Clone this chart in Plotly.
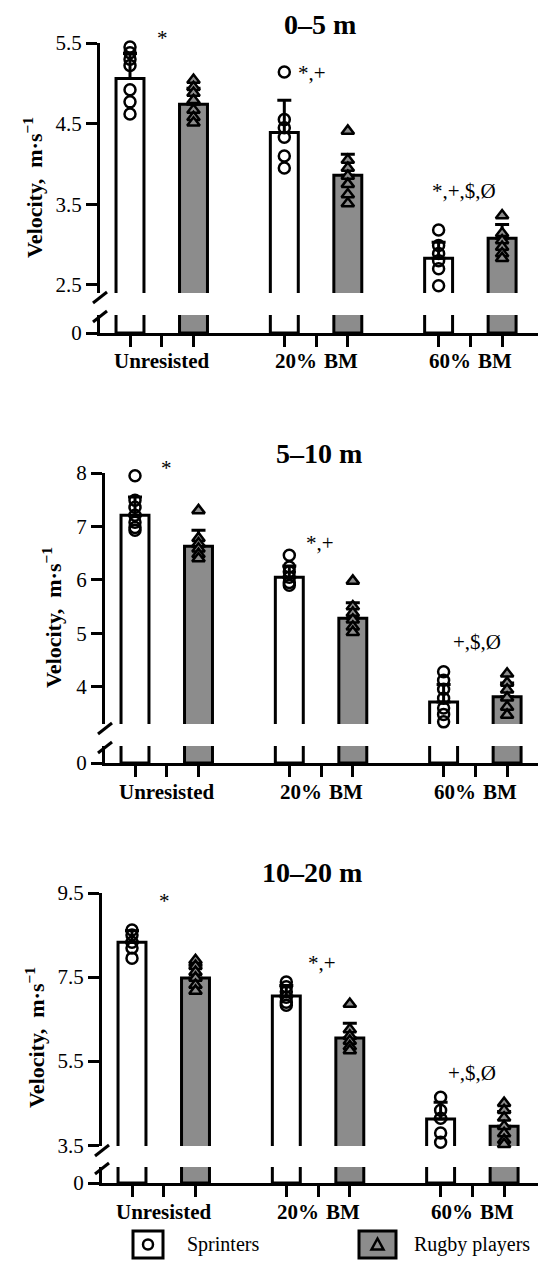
import plotly.graph_objects as go

W, H = 538, 1262

conditions = ["Unresisted", "20%\u2004BM", "60%\u2004BM"]
panel_titles = ["0–5 m", "5–10 m", "10–20 m"]
group_names = ["Sprinters", "Rugby players"]

# ---- 0–5 m ----
sprint_mean_0_5 = [5.06, 4.39, 2.83]
sprint_sd_0_5 = [0.31, 0.40, 0.20]
rugby_mean_0_5 = [4.74, 3.86, 3.08]
rugby_sd_0_5 = [0.20, 0.26, 0.17]
sprint_pts_0_5 = [[5.45, 5.38, 5.30, 5.22, 4.92, 4.77, 4.62],
                  [5.14, 4.55, 4.45, 4.33, 4.10, 3.95],
                  [3.18, 2.99, 2.89, 2.80, 2.70, 2.49]]
rugby_pts_0_5 = [[5.04, 4.95, 4.88, 4.79, 4.67, 4.58, 4.51],
                 [4.41, 4.05, 3.95, 3.85, 3.75, 3.62, 3.51],
                 [3.36, 3.14, 3.05, 2.97, 2.89, 2.83]]
sig_0_5 = ["*", "*,+", "*,+,$,Ø"]
ticks_0_5 = [2.5, 3.5, 4.5, 5.5]

# ---- 5–10 m ----
sprint_mean_5_10 = [7.21, 6.05, 3.71]
sprint_sd_5_10 = [0.34, 0.21, 0.33]
rugby_mean_5_10 = [6.63, 5.28, 3.81]
rugby_sd_5_10 = [0.30, 0.29, 0.26]
sprint_pts_5_10 = [[7.95, 7.49, 7.36, 7.21, 7.08, 6.98, 6.93],
                   [6.46, 6.24, 6.15, 6.05, 5.95, 5.90],
                   [4.28, 4.12, 3.95, 3.78, 3.60, 3.48, 3.34]]
rugby_pts_5_10 = [[7.30, 6.78, 6.68, 6.58, 6.48, 6.40],
                  [5.98, 5.50, 5.38, 5.25, 5.12, 5.02],
                  [4.24, 4.07, 3.94, 3.79, 3.62, 3.47]]
sig_5_10 = ["*", "*,+", "+,$,Ø"]
ticks_5_10 = [4, 5, 6, 7, 8]

# ---- 10–20 m ----
sprint_mean_10_20 = [8.33, 7.05, 4.12]
sprint_sd_10_20 = [0.27, 0.25, 0.40]
rugby_mean_10_20 = [7.48, 6.05, 3.95]
rugby_sd_10_20 = [0.30, 0.35, 0.35]
sprint_pts_10_20 = [[8.62, 8.50, 8.33, 8.19, 7.95],
                    [7.38, 7.27, 7.15, 7.02, 6.90, 6.83],
                    [4.64, 4.33, 4.14, 3.79, 3.57]]
rugby_pts_10_20 = [[7.90, 7.76, 7.62, 7.48, 7.31, 7.17],
                   [6.86, 6.25, 6.10, 5.98, 5.85, 5.75],
                   [4.50, 4.33, 4.15, 3.95, 3.78, 3.62, 3.52]]
sig_10_20 = ["*", "*,+", "+,$,Ø"]
ticks_10_20 = [3.5, 5.5, 7.5, 9.5]

panels_data = [
    (sprint_mean_0_5, sprint_sd_0_5, rugby_mean_0_5, rugby_sd_0_5, sprint_pts_0_5, rugby_pts_0_5, sig_0_5, ticks_0_5),
    (sprint_mean_5_10, sprint_sd_5_10, rugby_mean_5_10, rugby_sd_5_10, sprint_pts_5_10, rugby_pts_5_10, sig_5_10, ticks_5_10),
    (sprint_mean_10_20, sprint_sd_10_20, rugby_mean_10_20, rugby_sd_10_20, sprint_pts_10_20, rugby_pts_10_20, sig_10_20, ticks_10_20),
]

# ---- layout (pixel geometry) ----
layout_cfg = [
    dict(yx=100, up=(43, 293), lo=(315, 333), yr=(2.4, 5.5), title_xy=(320, 24), ytitle_xy=(33, 188),
         sig_y=[5.56, 5.13, 3.67], sig_dx=[1, -4, -6], cat_y=361),
    dict(yx=105, up=(473, 724), lo=(746, 763), yr=(3.3, 8.0), title_xy=(319, 453), ytitle_xy=(52, 618),
         sig_y=[8.09, 6.69, 4.84], sig_dx=[0, -1, 2], cat_y=792),
    dict(yx=102, up=(893, 1146), lo=(1167, 1183), yr=(3.48, 9.5), title_xy=(312, 872), ytitle_xy=(35, 1038),
         sig_y=[9.31, 7.83, 5.21], sig_dx=[1, 4, 0], cat_y=1212),
]
PX_PER_UNIT = 31.75
GROUP_STEP = 4.86
XMIN = -0.945
BAR_W = 0.88
GRAY = "#8c8c8c"
FONT = "Liberation Serif, Times New Roman, Times, serif"


def xp(px):
    return px / W


def yp(py):
    return 1 - py / H


fig = go.Figure()
shapes = []
annotations = []
lay = {}

for p, (sm, ssd, rm, rsd, spts, rpts, sig, yticks) in enumerate(panels_data):
    c = layout_cfg[p]
    xa = "x" if p == 0 else f"x{p + 1}"
    yu_i, yl_i = 2 * p + 1, 2 * p + 2
    yu = "y" if yu_i == 1 else f"y{yu_i}"
    yl = f"y{yl_i}"
    s_pos = [g * GROUP_STEP for g in range(3)]
    m_pos = [g * GROUP_STEP + 1 for g in range(3)]
    r_pos = [g * GROUP_STEP + 2 for g in range(3)]

    for ya, with_err in ((yu, True), (yl, False)):
        fig.add_trace(go.Bar(
            x=s_pos, y=sm, width=BAR_W, xaxis=xa, yaxis=ya,
            marker=dict(color="white", line=dict(color="black", width=3)),
            error_y=dict(type="data", symmetric=False, array=ssd, arrayminus=[0] * 3,
                         thickness=3, width=7, color="black", visible=with_err),
            showlegend=False, hoverinfo="skip"))
        fig.add_trace(go.Bar(
            x=r_pos, y=rm, width=BAR_W, xaxis=xa, yaxis=ya,
            marker=dict(color=GRAY, line=dict(color="black", width=3)),
            error_y=dict(type="data", symmetric=False, array=rsd, arrayminus=[0] * 3,
                         thickness=3, width=7, color="black", visible=with_err),
            showlegend=False, hoverinfo="skip"))

    sx, sy, rx, ry = [], [], [], []
    for g in range(3):
        sx += [s_pos[g]] * len(spts[g])
        sy += spts[g]
        rx += [r_pos[g]] * len(rpts[g])
        ry += rpts[g]
    fig.add_trace(go.Scatter(
        x=sx, y=sy, mode="markers", xaxis=xa, yaxis=yu, cliponaxis=False,
        marker=dict(symbol="circle", size=11, color="rgba(0,0,0,0)",
                    line=dict(color="black", width=2.5)),
        showlegend=False, hoverinfo="skip"))
    fig.add_trace(go.Scatter(
        x=rx, y=ry, mode="markers", xaxis=xa, yaxis=yu, cliponaxis=False,
        marker=dict(symbol="triangle-up", size=11, color=GRAY,
                    line=dict(color="black", width=2.5)),
        showlegend=False, hoverinfo="skip"))

    xmax = XMIN + (W - c["yx"]) / PX_PER_UNIT
    tickvals = []
    for g in range(3):
        tickvals += [s_pos[g], m_pos[g], r_pos[g]]

    xkey = "xaxis" if p == 0 else f"xaxis{p + 1}"
    yukey = "yaxis" if yu_i == 1 else f"yaxis{yu_i}"
    ylkey = f"yaxis{yl_i}"
    lay[xkey] = dict(
        domain=[xp(c["yx"]), 1], range=[XMIN, xmax], anchor=yl, automargin=False,
        showline=True, linecolor="black", linewidth=3, showgrid=False, zeroline=False,
        ticks="outside", ticklen=11, tickwidth=3, tickcolor="black",
        tickvals=tickvals, showticklabels=False)
    lay[yukey] = dict(
        domain=[yp(c["up"][1]), yp(c["up"][0])], range=list(c["yr"]), anchor=xa, automargin=False,
        showline=True, linecolor="black", linewidth=3, showgrid=False, zeroline=False,
        ticks="outside", ticklen=11, tickwidth=3, tickcolor="black",
        tickvals=yticks, ticktext=[f"{t:g}" for t in yticks],
        tickfont=dict(family=FONT, size=21, color="black"))
    lay[ylkey] = dict(
        domain=[yp(c["lo"][1]), yp(c["lo"][0])], range=[0, 1], anchor=xa, automargin=False,
        showline=True, linecolor="black", linewidth=3, showgrid=False, zeroline=False,
        ticks="outside", ticklen=11, tickwidth=3, tickcolor="black",
        tickvals=[0], ticktext=["0"],
        tickfont=dict(family=FONT, size=21, color="black"))

    # category labels
    for g in range(3):
        annotations.append(dict(text=f"<b>{conditions[g]}</b>", xref=xa, yref="paper",
                                x=m_pos[g], y=yp(c["cat_y"]), xanchor="center", yanchor="middle",
                                showarrow=False, font=dict(family=FONT, size=21, color="black")))

    # axis break marks
    yx = c["yx"]
    ub = c["up"][1]
    lt = c["lo"][0]
    for cy in (ub + 4, lt + 1):
        shapes.append(dict(type="line", xref="paper", yref="paper",
                           x0=xp(yx - 7), y0=yp(cy + 6), x1=xp(yx + 7), y1=yp(cy - 5),
                           line=dict(color="black", width=3)))

    # panel title
    annotations.append(dict(text=f"<b>{panel_titles[p]}</b>", xref="paper", yref="paper",
                            x=xp(c["title_xy"][0]), y=yp(c["title_xy"][1]),
                            xanchor="center", yanchor="middle", showarrow=False,
                            font=dict(family=FONT, size=28, color="black")))
    # y title
    annotations.append(dict(text="<b>Velocity,\u2002m·s<sup>−1</sup></b>", xref="paper", yref="paper",
                            x=xp(c["ytitle_xy"][0]), y=yp(c["ytitle_xy"][1]), textangle=-90,
                            xanchor="center", yanchor="middle", showarrow=False,
                            font=dict(family=FONT, size=22, color="black")))
    # significance labels (value -> pixel via the upper axis scale)
    u0, u1 = c["up"]
    r0, r1 = c["yr"]
    for g in range(3):
        py = u0 + (r1 - c["sig_y"][g]) * (u1 - u0) / (r1 - r0)
        annotations.append(dict(text=sig[g], xref=xa, yref="paper", x=m_pos[g], y=yp(py),
                                xshift=c["sig_dx"][g], xanchor="center", yanchor="middle",
                                showarrow=False,
                                font=dict(family=FONT, size=21, color="black")))

# ---- legend (manual, Prism style) ----
leg_y0, leg_y1 = 1231, 1258
leg_items = [(133, 163, 185, "circle"), (359, 396, 412, "triangle")]
for (bx0, bx1, tx, kind), name in zip(leg_items, group_names):
    shapes.append(dict(type="rect", xref="paper", yref="paper",
                       x0=xp(bx0), x1=xp(bx1), y0=yp(leg_y1), y1=yp(leg_y0),
                       line=dict(color="black", width=3),
                       fillcolor="white" if kind == "circle" else GRAY))
    cx, cy = (bx0 + bx1) / 2, (leg_y0 + leg_y1) / 2
    if kind == "circle":
        shapes.append(dict(type="circle", xref="paper", yref="paper",
                           x0=xp(cx - 5), x1=xp(cx + 5), y0=yp(cy + 5), y1=yp(cy - 5),
                           line=dict(color="black", width=2.5)))
    else:
        shapes.append(dict(type="path", xref="paper", yref="paper",
                           path=(f"M {xp(cx - 6)} {yp(cy + 5)} L {xp(cx + 6)} {yp(cy + 5)} "
                                 f"L {xp(cx)} {yp(cy - 6)} Z"),
                           line=dict(color="black", width=2.5), fillcolor=GRAY))
    annotations.append(dict(text=name, xref="paper", yref="paper", x=xp(tx), y=yp(cy),
                            xanchor="left", yanchor="middle", showarrow=False,
                            font=dict(family=FONT, size=20, color="black")))

fig.update_layout(
    width=W, height=H, margin=dict(l=0, r=0, t=0, b=0, pad=0),
    paper_bgcolor="white", plot_bgcolor="rgba(0,0,0,0)",
    barmode="overlay", showlegend=False,
    font=dict(family=FONT, color="black"),
    shapes=shapes, annotations=annotations, **lay)

fig.write_html("out.html", config={"displayModeBar": False},
               post_script="document.body.style.margin='0px';document.body.style.padding='0px';")
